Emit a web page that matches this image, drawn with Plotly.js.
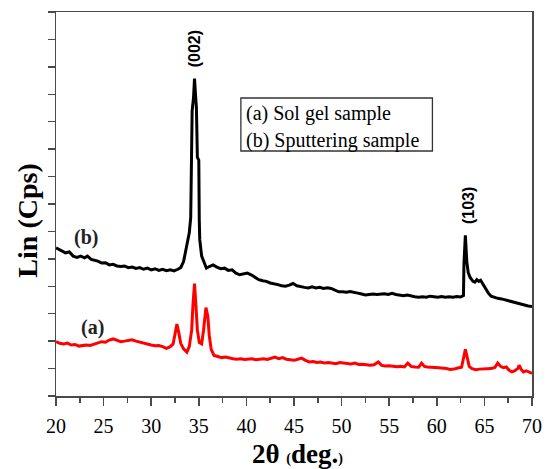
<!DOCTYPE html>
<html>
<head>
<meta charset="utf-8">
<script src="https://cdn.plot.ly/plotly-3.0.1.min.js"></script>
<style>html,body{margin:0;padding:0;background:#fff;}#chart{width:546px;height:469px;}</style>
</head>
<body>
<div id="chart"></div>
<script>
// Sample (b): sputtering (black)
const twoThetaB = [20.0,20.3,20.6,21.0,21.4,21.8,22.2,22.6,23.0,23.3,23.7,24.0,24.4,24.8,25.2,25.6,26.0,26.4,26.8,27.2,27.6,28.0,28.4,28.8,29.2,29.6,30.0,30.4,30.8,31.2,31.6,32.0,32.4,32.8,33.1,33.4,33.7,34.0,34.15,34.25,34.3,34.45,34.55,34.65,34.75,34.85,35.0,35.05,35.1,35.3,35.5,35.8,36.1,36.5,36.9,37.3,37.7,38.1,38.5,38.9,39.3,39.7,40.1,40.5,40.9,41.3,41.7,42.1,42.5,42.9,43.3,43.7,44.1,44.5,44.9,45.3,45.7,46.1,46.5,46.9,47.3,47.7,48.1,48.5,48.9,49.3,49.7,50.1,50.5,50.9,51.3,51.7,52.1,52.5,52.9,53.3,53.7,54.1,54.5,54.9,55.3,55.7,56.1,56.5,56.9,57.3,57.7,58.1,58.5,58.9,59.3,59.7,60.1,60.5,60.9,61.3,61.7,62.1,62.5,62.8,62.85,63.0,63.15,63.3,63.5,63.8,64.0,64.2,64.4,64.6,64.8,65.1,65.4,65.7,66.0,66.4,66.8,67.2,67.6,68.0,68.4,68.8,69.2,69.6,70.0];
const intensityB = [5.40,5.35,5.30,5.22,5.25,5.10,5.05,5.10,5.04,5.10,4.98,4.96,4.92,4.85,4.86,4.78,4.80,4.74,4.72,4.74,4.68,4.70,4.65,4.68,4.62,4.66,4.60,4.64,4.58,4.62,4.57,4.60,4.56,4.62,4.68,4.90,5.50,5.95,6.5,8.5,10.4,10.9,11.57,11.0,10.5,8.7,8.6,6.4,5.70,5.10,4.90,4.66,4.72,4.78,4.70,4.64,4.66,4.58,4.60,4.48,4.42,4.45,4.48,4.42,4.34,4.24,4.20,4.18,4.12,4.10,4.06,4.02,4.00,4.04,4.10,4.02,3.98,3.96,3.94,3.98,3.94,3.96,3.92,3.95,3.92,3.86,3.80,3.80,3.78,3.81,3.77,3.75,3.72,3.68,3.70,3.72,3.70,3.72,3.73,3.70,3.74,3.70,3.68,3.66,3.68,3.64,3.62,3.60,3.62,3.60,3.64,3.62,3.60,3.63,3.60,3.62,3.60,3.63,3.61,3.66,4.8,5.86,4.9,4.5,4.32,4.18,4.15,4.24,4.18,4.22,4.10,3.96,3.76,3.64,3.60,3.56,3.54,3.50,3.47,3.44,3.40,3.36,3.30,3.28,3.26];

// Sample (a): sol gel (red)
const twoThetaA = [20.0,20.4,20.8,21.2,21.6,22.0,22.4,22.8,23.2,23.6,24.0,24.4,24.8,25.2,25.6,26.0,26.4,26.8,27.2,27.6,28.0,28.4,28.8,29.2,29.6,30.0,30.4,30.8,31.2,31.6,32.0,32.3,32.5,32.7,32.9,33.1,33.4,33.75,34.0,34.25,34.4,34.55,34.7,34.85,35.05,35.3,35.5,35.75,35.95,36.1,36.3,36.6,37.0,37.4,37.8,38.2,38.6,39.0,39.4,39.8,40.2,40.6,41.0,41.4,41.8,42.2,42.6,43.0,43.4,43.8,44.2,44.6,45.0,45.4,45.8,46.2,46.6,47.0,47.4,47.8,48.2,48.6,49.0,49.4,49.8,50.2,50.6,51.0,51.4,51.8,52.2,52.6,53.0,53.4,53.85,54.2,54.6,55.0,55.4,55.8,56.2,56.6,56.95,57.3,57.7,58.1,58.4,58.7,59.0,59.4,59.8,60.2,60.6,61.0,61.4,61.8,62.2,62.6,62.85,63.0,63.2,63.4,63.7,64.1,64.5,64.9,65.3,65.7,66.1,66.4,66.7,67.0,67.3,67.6,67.9,68.2,68.5,68.65,68.85,69.1,69.4,69.7,70.0];
const intensityA = [1.98,1.92,1.90,1.93,1.86,1.88,1.82,1.84,1.86,1.84,1.88,1.92,1.98,1.96,2.04,2.08,2.02,1.98,2.00,2.02,2.05,2.00,1.96,1.92,1.90,1.86,1.83,1.84,1.80,1.74,1.80,1.90,2.25,2.62,2.30,1.92,1.72,1.60,1.80,2.40,3.40,4.10,3.30,2.40,1.95,1.90,2.40,3.22,2.90,2.20,1.70,1.48,1.44,1.40,1.42,1.38,1.36,1.34,1.36,1.33,1.34,1.36,1.32,1.34,1.36,1.33,1.38,1.42,1.36,1.40,1.34,1.32,1.30,1.34,1.38,1.30,1.24,1.26,1.22,1.24,1.20,1.22,1.20,1.18,1.22,1.20,1.18,1.17,1.20,1.15,1.16,1.13,1.12,1.14,1.24,1.12,1.09,1.10,1.08,1.07,1.08,1.06,1.20,1.08,1.06,1.05,1.20,1.08,1.06,1.04,1.04,1.03,1.02,1.00,0.97,0.98,1.02,1.05,1.45,1.70,1.40,1.08,1.00,0.96,0.98,0.98,1.00,1.00,1.04,1.20,1.08,1.03,1.06,0.94,0.88,0.92,1.00,1.12,0.98,0.88,0.92,0.88,0.82];

const xTickVals = [20,25,30,35,40,45,50,55,60,65,70];
const xTickText = ["20","25","30","35","40","45","50","55","60","65","70"];
const legendLines = ["(a) Sol gel sample", "(b) Sputtering sample"];
const peakLabels = ["(002)", "(103)"];
const sampleLabels = ["(a)", "(b)"];

const serif = "Liberation Serif";
const sans = "Liberation Sans";
const axisColor = "#4a4a4a";

const traces = [
  {x: twoThetaB, y: intensityB, type: "scatter", mode: "lines",
   line: {color: "#000000", width: 3}, hoverinfo: "skip"},
  {x: twoThetaA, y: intensityA, type: "scatter", mode: "lines",
   line: {color: "#ff0000", width: 3}, hoverinfo: "skip"}
];

const layout = {
  width: 546, height: 469,
  margin: {l: 56, r: 14, t: 12, b: 73},
  paper_bgcolor: "#ffffff", plot_bgcolor: "#ffffff",
  showlegend: false,
  font: {family: serif, color: "#000"},
  xaxis: {
    range: [20, 70], tickvals: xTickVals, ticktext: xTickText,
    ticks: "outside", ticklen: 8, tickwidth: 1.5, tickcolor: axisColor,
    minor: {dtick: 2.5, ticks: "outside", ticklen: 5, tickwidth: 1.5, tickcolor: axisColor},
    ticklabelstandoff: 3,
    showline: true, linecolor: axisColor, linewidth: 1.5, mirror: true,
    showgrid: false, zeroline: false,
    tickfont: {family: serif, size: 20, color: "#000"}
  },
  yaxis: {
    range: [0, 14], dtick: 1, tick0: 0,
    ticks: "outside", ticklen: 7, tickwidth: 1.5, tickcolor: axisColor,
    showticklabels: false,
    showline: true, linecolor: axisColor, linewidth: 1.5, mirror: true,
    showgrid: false, zeroline: false
  },
  shapes: [
    {type: "rect", xref: "paper", yref: "paper", x0: 0.3884, x1: 0.7908, y0: 0.638, y1: 0.776,
     line: {color: "#333", width: 1.3}, fillcolor: "rgba(0,0,0,0)"}
  ],
  annotations: [
    {xref: "paper", yref: "paper", x: 0.394, y: 0.7354, xanchor: "left", yanchor: "middle",
     text: legendLines[0], showarrow: false, font: {family: serif, size: 20, color: "#000"}},
    {xref: "paper", yref: "paper", x: 0.394, y: 0.6659, xanchor: "left", yanchor: "middle",
     text: legendLines[1], showarrow: false, font: {family: serif, size: 20, color: "#000"}},
    {xref: "x", yref: "y", x: 34.58, y: 12.67, xanchor: "center", yanchor: "middle",
     text: "<b>" + peakLabels[0] + "</b>", textangle: -90,
     showarrow: false, font: {family: sans, size: 16, color: "#000"}},
    {xref: "x", yref: "y", x: 63.35, y: 6.95, xanchor: "center", yanchor: "middle",
     text: "<b>" + peakLabels[1] + "</b>", textangle: -90,
     showarrow: false, font: {family: sans, size: 16, color: "#000"}},
    {xref: "x", yref: "y", x: 23.86, y: 2.49, xanchor: "center", yanchor: "middle",
     text: "<b>" + sampleLabels[0] + "</b>",
     showarrow: false, font: {family: serif, size: 20, color: "#222"}},
    {xref: "x", yref: "y", x: 23.18, y: 5.77, xanchor: "center", yanchor: "middle",
     text: "<b>" + sampleLabels[1] + "</b>",
     showarrow: false, font: {family: serif, size: 20, color: "#222"}},
    {xref: "paper", yref: "paper", x: -0.0602, y: 0.4576, xanchor: "center", yanchor: "middle",
     text: "<b>Lin (Cps)</b>", textangle: -90,
     showarrow: false, font: {family: serif, size: 28, color: "#000"}},
    {xref: "paper", yref: "paper", x: 0.507, y: -0.15, xanchor: "center", yanchor: "middle",
     text: "<b>2θ <span style=\"font-size:14px\">(</span>deg.<span style=\"font-size:14px\">)</span></b>",
     showarrow: false, font: {family: serif, size: 27, color: "#000"}}
  ]
};

Plotly.newPlot("chart", traces, layout, {displayModeBar: false, staticPlot: true});
</script>
</body>
</html>
